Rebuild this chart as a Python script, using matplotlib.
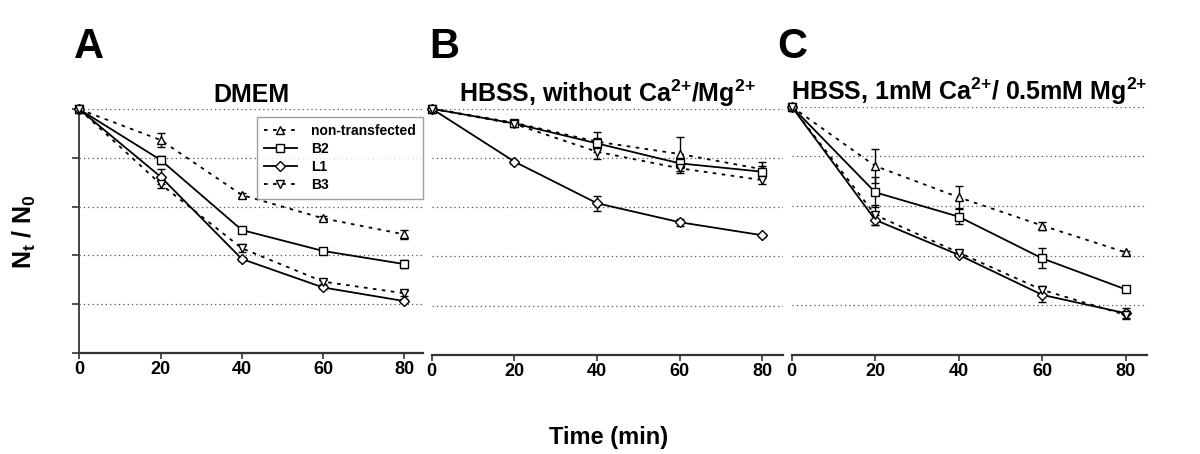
import matplotlib
matplotlib.use("Agg")
import matplotlib.pyplot as plt
from matplotlib.lines import Line2D

# Time points (min)
times = [0, 20, 40, 60, 80]
series_names = ["non-transfected", "B2", "L1", "B3"]

# Panel A - DMEM
a_nt = [1.0, 0.874, 0.648, 0.552, 0.486]
a_nt_err = [0, 0.027, 0.010, 0.008, 0.020]
a_b2 = [1.0, 0.792, 0.504, 0.418, 0.364]
a_b2_err = [0, 0.015, 0.006, 0.008, 0.016]
a_l1 = [1.0, 0.723, 0.385, 0.268, 0.212]
a_l1_err = [0, 0.030, 0.010, 0.006, 0.008]
a_b3 = [1.0, 0.693, 0.429, 0.292, 0.244]
a_b3_err = [0, 0.016, 0.016, 0.008, 0.010]

# Panel B - HBSS without Ca/Mg
b_nt = [1.0, 0.943, 0.866, 0.816, 0.754]
b_nt_err = [0, 0.012, 0.040, 0.070, 0.030]
b_b2 = [1.0, 0.940, 0.859, 0.778, 0.744]
b_b2_err = [0, 0.010, 0.020, 0.020, 0.025]
b_l1 = [1.0, 0.785, 0.616, 0.539, 0.486]
b_l1_err = [0, 0.008, 0.030, 0.015, 0.005]
b_b3 = [1.0, 0.938, 0.825, 0.758, 0.710]
b_b3_err = [0, 0.010, 0.030, 0.020, 0.015]

# Panel C - HBSS 1mM Ca / 0.5mM Mg
c_nt = [1.0, 0.761, 0.635, 0.521, 0.413]
c_nt_err = [0, 0.070, 0.045, 0.016, 0.005]
c_b2 = [1.0, 0.655, 0.557, 0.389, 0.264]
c_b2_err = [0, 0.060, 0.030, 0.040, 0.005]
c_l1 = [1.0, 0.544, 0.403, 0.242, 0.168]
c_l1_err = [0, 0.020, 0.010, 0.030, 0.020]
c_b3 = [1.0, 0.564, 0.412, 0.262, 0.161]
c_b3_err = [0, 0.040, 0.010, 0.015, 0.015]

panel_letters = ["A", "B", "C"]
panel_titles = [
    "DMEM",
    r"HBSS, without Ca$^{\text{2+}}$/Mg$^{\text{2+}}$",
    r"HBSS, 1mM Ca$^{\text{2+}}$/ 0.5mM Mg$^{\text{2+}}$",
]

plt.rcParams["font.family"] = ["Liberation Sans", "DejaVu Sans"]
plt.rcParams["font.weight"] = "bold"
plt.rcParams["mathtext.fontset"] = "custom"
plt.rcParams["mathtext.rm"] = "Liberation Sans:bold"
plt.rcParams["mathtext.it"] = "Liberation Sans:bold"
plt.rcParams["mathtext.bf"] = "Liberation Sans:bold"
plt.rcParams["mathtext.default"] = "rm"

dotted = (0, (2, 3))
styles = [
    dict(marker="^", linestyle=dotted),
    dict(marker="s", linestyle="-"),
    dict(marker="D", linestyle="-"),
    dict(marker="v", linestyle=dotted),
]
msizes = [6, 5.5, 5.5, 6]


def main():
    fig = plt.figure(figsize=(12, 4.54), dpi=100)

    # axes rectangles (left, bottom, width, height) in figure fraction
    rects = [
        [0.0661, 0.2231, 0.2862, 0.5361],
        [0.3598, 0.2181, 0.2928, 0.5425],
        [0.6598, 0.2181, 0.2958, 0.5469],
    ]
    data = [
        [(a_nt, a_nt_err), (a_b2, a_b2_err), (a_l1, a_l1_err), (a_b3, a_b3_err)],
        [(b_nt, b_nt_err), (b_b2, b_b2_err), (b_l1, b_l1_err), (b_b3, b_b3_err)],
        [(c_nt, c_nt_err), (c_b2, c_b2_err), (c_l1, c_l1_err), (c_b3, c_b3_err)],
    ]

    for i, rect in enumerate(rects):
        ax = fig.add_axes(rect)
        for j, (vals, errs) in enumerate(data[i]):
            ax.errorbar(times, vals, yerr=errs, color="black", lw=1.3,
                        linestyle=styles[j]["linestyle"],
                        marker=styles[j]["marker"], markersize=msizes[j],
                        markerfacecolor="white", markeredgecolor="black",
                        markeredgewidth=1.0, ecolor="black", elinewidth=1.0,
                        capsize=3, capthick=1.0, clip_on=False, zorder=3)

        ax.set_xlim(0, 84.5 if i == 0 else 85)
        ax.set_ylim(0, 1.0)
        ax.set_xticks([0, 20, 40, 60, 80])
        ax.set_yticks([0, 0.2, 0.4, 0.6, 0.8, 1.0])
        ax.yaxis.grid(True, linestyle=(0, (1, 2.5)), color="#555555", lw=0.9)
        ax.set_axisbelow(True)
        for s in ["top", "right"]:
            ax.spines[s].set_visible(False)
        ax.spines["bottom"].set_color("#333333")
        ax.spines["bottom"].set_linewidth(1.6)
        ax.spines["left"].set_color("#444444")
        ax.spines["left"].set_linewidth(1.4)
        ax.tick_params(axis="x", direction="out", length=4, width=1.2,
                       labelsize=13, color="#333333", pad=2)
        for lab in ax.get_xticklabels():
            lab.set_fontweight("bold")
        if i == 0:
            ax.tick_params(axis="y", direction="out", length=5, width=1.2,
                           labelleft=False, color="#333333")
        else:
            ax.spines["left"].set_visible(False)
            ax.tick_params(axis="y", length=0, labelleft=False)

        ax.set_title(panel_titles[i], fontsize=18, fontweight="bold", pad=5)

        if i == 0:
            handles = [
                Line2D([], [], color="black", lw=1.3,
                       linestyle=styles[j]["linestyle"],
                       marker=styles[j]["marker"], markersize=msizes[j],
                       markerfacecolor="white", markeredgecolor="black",
                       markeredgewidth=1.0)
                for j in range(4)
            ]
            leg = ax.legend(handles, series_names, loc="upper right",
                            bbox_to_anchor=(1.0, 0.97),
                            fontsize=10, frameon=True, fancybox=False,
                            handlelength=2.4, handletextpad=1.0,
                            borderpad=0.5, labelspacing=0.3,
                            borderaxespad=0.0)
            leg.get_frame().set_edgecolor("#888888")
            leg.get_frame().set_linewidth(1.0)
            for t in leg.get_texts():
                t.set_fontweight("bold")

    letter_x = [0.062, 0.358, 0.648]
    for i, letter in enumerate(panel_letters):
        fig.text(letter_x[i], 0.872, letter, fontsize=30, fontweight="bold",
                 va="baseline", ha="left")

    fig.text(0.02, 0.49, "N$_{t}$ / N$_{0}$", rotation=90, fontsize=18,
             fontweight="bold", ha="center", va="center")
    fig.text(0.507, 0.037, "Time (min)", fontsize=17, fontweight="bold",
             ha="center", va="center")

    fig.savefig("out.png", dpi=100)


if __name__ == "__main__":
    main()
